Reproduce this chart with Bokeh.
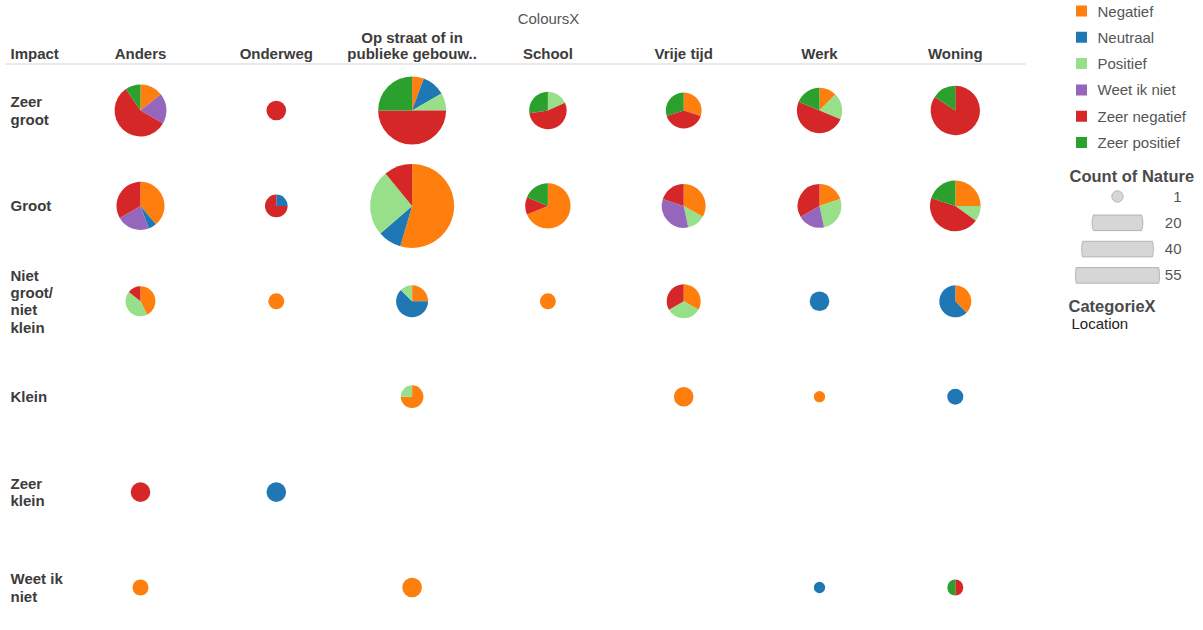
import math
from bokeh.plotting import figure
from bokeh.models import Range1d, ColumnDataSource
from bokeh.core.properties import value
from bokeh.embed import file_html
from bokeh.resources import INLINE

# ---------------- data ----------------
locations = ["Anders", "Onderweg", "Op straat of in\npublieke gebouw..", "School",
             "Vrije tijd", "Werk", "Woning"]
impacts = ["Zeer\ngroot", "Groot", "Niet\ngroot/\nniet\nklein", "Klein", "Zeer\nklein", "Weet ik\nniet"]
natures = ["Negatief", "Neutraal", "Positief", "Weet ik niet", "Zeer negatief", "Zeer positief"]
nature_colors = ["#ff7f0e", "#1f77b4", "#98df8a", "#9467bd", "#d62728", "#2ca02c"]

# counts per impact row (rows) x location (columns)
negatief = [[3, 0, 2, 0, 3, 2, 0],
            [7, 0, 30, 11, 5, 3, 5],
            [3, 2, 2, 2, 3, 0, 3],
            [0, 0, 3, 0, 3, 1, 0],
            [0, 0, 0, 0, 0, 0, 0],
            [2, 0, 3, 0, 0, 0, 0]]
neutraal = [[0, 0, 4, 0, 0, 0, 0],
            [1, 1, 5, 0, 0, 0, 0],
            [0, 0, 5, 0, 0, 3, 5],
            [0, 0, 0, 0, 0, 0, 2],
            [0, 3, 0, 0, 0, 0, 0],
            [0, 0, 0, 0, 0, 1, 0]]
positief = [[0, 0, 3, 2, 0, 3, 0],
            [0, 0, 14, 0, 2, 4, 2],
            [3, 0, 1, 0, 3, 0, 0],
            [0, 0, 1, 0, 0, 0, 0],
            [0, 0, 0, 0, 0, 0, 0],
            [0, 0, 0, 0, 0, 0, 0]]
weet_ik_niet = [[4, 0, 0, 0, 0, 0, 0],
                [4, 0, 0, 0, 5, 3, 0],
                [0, 0, 0, 0, 0, 0, 0],
                [0, 0, 0, 0, 0, 0, 0],
                [0, 0, 0, 0, 0, 0, 0],
                [0, 0, 0, 0, 0, 0, 0]]
zeer_negatief = [[12, 3, 18, 6, 4, 8, 16],
                 [6, 3, 6, 2, 3, 5, 9],
                 [1, 0, 0, 0, 3, 0, 0],
                 [0, 0, 0, 0, 0, 0, 0],
                 [3, 0, 0, 0, 0, 0, 0],
                 [0, 0, 0, 0, 0, 0, 1]]
zeer_positief = [[2, 0, 9, 3, 3, 3, 3],
                 [0, 0, 0, 3, 0, 0, 4],
                 [0, 0, 0, 0, 0, 0, 0],
                 [0, 0, 0, 0, 0, 0, 0],
                 [0, 0, 0, 0, 0, 0, 0],
                 [0, 0, 0, 0, 0, 0, 1]]
series = [negatief, neutraal, positief, weet_ik_niet, zeer_negatief, zeer_positief]

size_legend_values = [1, 20, 40, 55]

# ---------------- layout ----------------
W, H = 1200, 620
FONT = value("Liberation Sans")
COL_X0, COL_DX = 140.0, 135.8
ROW_Y0, ROW_DY = 110.0, 95.4
R_MAX = 42.0
MAX_COUNT = max(size_legend_values)

# one data unit == one screen pixel
p = figure(width=W, height=H, x_range=Range1d(0, W), y_range=Range1d(-H, 0),
           output_backend="svg", toolbar_location=None,
           x_axis_location=None, y_axis_location=None,
           min_border=0, outline_line_color=None,
           background_fill_color="white", border_fill_color="white")
p.xgrid.visible = False
p.ygrid.visible = False


def col_x(j):
    return COL_X0 + j * COL_DX


def row_y(i):
    return -(ROW_Y0 + i * ROW_DY)


def radius(n):
    return R_MAX * math.sqrt(n / MAX_COUNT)


# ---------------- pies ----------------
wx, wy, wr, ws, we, wc = [], [], [], [], [], []
cx, cy, cr, cc = [], [], [], []
for i in range(len(impacts)):
    for j in range(len(locations)):
        counts = [s[i][j] for s in series]
        total = sum(counts)
        if total == 0:
            continue
        r = radius(total)
        cum = 0
        for k, c in enumerate(counts):
            if c == 0:
                continue
            if c == total:
                cx.append(col_x(j)); cy.append(row_y(i)); cr.append(r); cc.append(nature_colors[k])
            else:
                a = cum / total
                b = (cum + c) / total
                wx.append(col_x(j)); wy.append(row_y(i)); wr.append(r)
                ws.append(math.pi / 2 - 2 * math.pi * b)
                we.append(math.pi / 2 - 2 * math.pi * a)
                wc.append(nature_colors[k])
            cum += c

p.wedge(x="x", y="y", radius="r", start_angle="s", end_angle="e", fill_color="c",
        line_color=None,
        source=ColumnDataSource(dict(x=wx, y=wy, r=wr, s=ws, e=we, c=wc)))
p.circle(x="x", y="y", radius="r", fill_color="c", line_color=None,
         source=ColumnDataSource(dict(x=cx, y=cy, r=cr, c=cc)))

# ---------------- headers ----------------
HEAD_Y = -53
hx, hy, ht = [], [], []
for j, loc in enumerate(locations):
    lines = loc.split("\n")
    n = len(lines)
    for k, ln in enumerate(lines):
        hx.append(col_x(j)); hy.append(HEAD_Y + (n - 1 - k) * 16.5); ht.append(ln)
p.text(x=[10], y=[HEAD_Y], text=["Impact"], text_font=FONT, text_font_size="15px",
       text_font_style="bold", text_color="#3c3c3c", text_align="left", text_baseline="middle")
p.text(x=hx, y=hy, text=ht, text_font=FONT, text_font_size="15px",
       text_font_style="bold", text_color="#3c3c3c", text_align="center", text_baseline="middle")
p.segment(x0=[5], y0=[-63.5], x1=[1025], y1=[-63.5], line_color="#d4d4d4", line_width=1)

p.text(x=[548], y=[-18], text=["ColoursX"], text_font=FONT, text_font_size="15px",
       text_color="#555555", text_align="center", text_baseline="middle")

# row labels
rx, ry, rt = [], [], []
LINE_H = 17.3
for i, imp in enumerate(impacts):
    lines = imp.split("\n")
    n = len(lines)
    for k, ln in enumerate(lines):
        rx.append(10); ry.append(row_y(i) - (k - (n - 1) / 2) * LINE_H); rt.append(ln)
p.text(x=rx, y=ry, text=rt, text_font=FONT, text_font_size="15px", text_font_style="bold",
       text_color="#3c3c3c", text_align="left", text_baseline="middle")

# ---------------- colour legend ----------------
LEG_Y0, LEG_DY = 10.5, 26.3
ly = [-(LEG_Y0 + k * LEG_DY) for k in range(len(natures))]
p.rect(x=[1081] * len(natures), y=ly, width=11, height=11, fill_color=nature_colors, line_color=None)
p.text(x=[1097] * len(natures), y=ly, text=natures, text_font=FONT, text_font_size="15px",
       text_color="#555555", text_align="left", text_baseline="middle")

p.text(x=[1069], y=[-175], text=["Count of Nature"], text_font=FONT, text_font_size="16.5px",
       text_font_style="bold", text_color="#4a4a4a", text_align="left", text_baseline="middle")

# size legend: circles clipped into the legend row height
sx, sy = [], []
ty = []
HALF_H = 7.8
for k, v in enumerate(size_legend_values):
    r = radius(v)
    yc = -(196 + k * 26.3)
    ty.append(yc)
    if r <= HALF_H:
        angs = [2 * math.pi * t / 40 for t in range(40)]
        xs = [1117 + r * math.cos(a) for a in angs]
        ys = [yc + r * math.sin(a) for a in angs]
    else:
        amax = math.asin(HALF_H / r)
        n = 12
        right = [-amax + 2 * amax * t / n for t in range(n + 1)]
        xs = [1117 + r * math.cos(a) for a in right] + [1117 - r * math.cos(a) for a in reversed(right)]
        ys = [yc + r * math.sin(a) for a in right] + [yc + r * math.sin(a) for a in reversed(right)]
    sx.append(xs); sy.append(ys)
p.patches(xs=sx, ys=sy, fill_color="#d6d6d6", line_color="#b4b4b4", line_width=1)
p.text(x=[1181] * len(size_legend_values), y=ty, text=[str(v) for v in size_legend_values],
       text_font=FONT, text_font_size="15px", text_color="#555555", text_align="right",
       text_baseline="middle")

p.text(x=[1068], y=[-305], text=["CategorieX"], text_font=FONT, text_font_size="16.5px",
       text_font_style="bold", text_color="#4a4a4a", text_align="left", text_baseline="middle")
p.text(x=[1071], y=[-322.5], text=["Location"], text_font=FONT, text_font_size="15px",
       text_color="#222222", text_align="left", text_baseline="middle")

open("out.html", "w").write(file_html(p, INLINE))
